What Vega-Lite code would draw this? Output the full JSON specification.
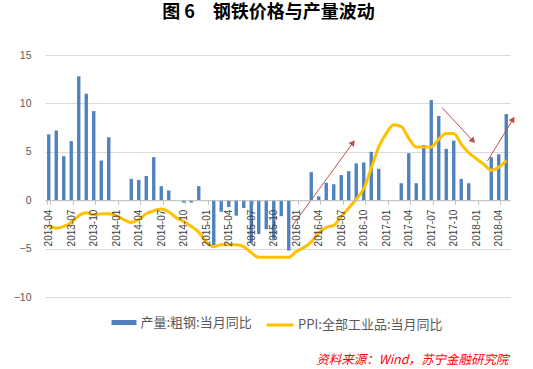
{
  "$schema": "https://vega.github.io/schema/vega-lite/v6.json",
  "width": 465,
  "height": 242,
  "autosize": {"type": "none"},
  "padding": {"left": 45, "top": 55, "right": 23, "bottom": 72},
  "background": "white",
  "title": {"text": "图 6　钢铁价格与产量波动", "frame": "group", "anchor": "middle", "dx": -9, "offset": 14, "baseline": "alphabetic", "font": "Noto Sans CJK SC", "fontSize": 18, "fontWeight": "bold", "color": "#000000"},
  "config": {"view": {"stroke": null}},
  "datasets": {
    "monthly": [
      {"m": "2013-04", "steel": 6.8, "ppi": -2.6},
      {"m": "2013-05", "steel": 7.2, "ppi": -2.9},
      {"m": "2013-06", "steel": 4.55, "ppi": -2.7},
      {"m": "2013-07", "steel": 6.1, "ppi": -2.3},
      {"m": "2013-08", "steel": 12.8, "ppi": -1.6},
      {"m": "2013-09", "steel": 11.0, "ppi": -1.3},
      {"m": "2013-10", "steel": 9.2, "ppi": -1.5},
      {"m": "2013-11", "steel": 4.1, "ppi": -1.4},
      {"m": "2013-12", "steel": 6.5, "ppi": -1.4},
      {"m": "2014-01", "steel": null, "ppi": -1.6},
      {"m": "2014-02", "steel": null, "ppi": -2.0},
      {"m": "2014-03", "steel": 2.2, "ppi": -2.3},
      {"m": "2014-04", "steel": 2.1, "ppi": -2.0},
      {"m": "2014-05", "steel": 2.5, "ppi": -1.4},
      {"m": "2014-06", "steel": 4.45, "ppi": -1.1},
      {"m": "2014-07", "steel": 1.45, "ppi": -0.9},
      {"m": "2014-08", "steel": 1.0, "ppi": -1.2},
      {"m": "2014-09", "steel": 0.0, "ppi": -1.8},
      {"m": "2014-10", "steel": -0.25, "ppi": -2.2},
      {"m": "2014-11", "steel": -0.25, "ppi": -2.7},
      {"m": "2014-12", "steel": 1.45, "ppi": -3.3},
      {"m": "2015-01", "steel": null, "ppi": -4.3},
      {"m": "2015-02", "steel": -4.65, "ppi": -4.8},
      {"m": "2015-03", "steel": -1.2, "ppi": -4.6},
      {"m": "2015-04", "steel": -0.7, "ppi": -4.6},
      {"m": "2015-05", "steel": -1.6, "ppi": -4.6},
      {"m": "2015-06", "steel": -0.8, "ppi": -4.8},
      {"m": "2015-07", "steel": -4.4, "ppi": -5.4},
      {"m": "2015-08", "steel": -3.5, "ppi": -5.9},
      {"m": "2015-09", "steel": -3.0, "ppi": -5.9},
      {"m": "2015-10", "steel": -4.0, "ppi": -5.9},
      {"m": "2015-11", "steel": -1.65, "ppi": -5.9},
      {"m": "2015-12", "steel": -5.2, "ppi": -5.9},
      {"m": "2016-01", "steel": null, "ppi": -5.3},
      {"m": "2016-02", "steel": null, "ppi": -4.9},
      {"m": "2016-03", "steel": 2.9, "ppi": -4.3},
      {"m": "2016-04", "steel": 0.4, "ppi": -3.4},
      {"m": "2016-05", "steel": 1.8, "ppi": -2.8},
      {"m": "2016-06", "steel": 1.65, "ppi": -2.6},
      {"m": "2016-07", "steel": 2.6, "ppi": -1.7},
      {"m": "2016-08", "steel": 3.0, "ppi": -0.8},
      {"m": "2016-09", "steel": 3.8, "ppi": 0.1},
      {"m": "2016-10", "steel": 3.9, "ppi": 1.2},
      {"m": "2016-11", "steel": 5.0, "ppi": 3.3},
      {"m": "2016-12", "steel": 3.25, "ppi": 5.5},
      {"m": "2017-01", "steel": null, "ppi": 6.9},
      {"m": "2017-02", "steel": null, "ppi": 7.8},
      {"m": "2017-03", "steel": 1.75, "ppi": 7.6},
      {"m": "2017-04", "steel": 4.85, "ppi": 6.4},
      {"m": "2017-05", "steel": 1.75, "ppi": 5.5},
      {"m": "2017-06", "steel": 5.7, "ppi": 5.5},
      {"m": "2017-07", "steel": 10.35, "ppi": 5.5},
      {"m": "2017-08", "steel": 8.7, "ppi": 6.3},
      {"m": "2017-09", "steel": 5.3, "ppi": 6.9},
      {"m": "2017-10", "steel": 6.15, "ppi": 6.9},
      {"m": "2017-11", "steel": 2.2, "ppi": 5.8},
      {"m": "2017-12", "steel": 1.75, "ppi": 4.9},
      {"m": "2018-01", "steel": null, "ppi": 4.3},
      {"m": "2018-02", "steel": null, "ppi": 3.7},
      {"m": "2018-03", "steel": 4.45, "ppi": 3.1},
      {"m": "2018-04", "steel": 4.75, "ppi": 3.4},
      {"m": "2018-05", "steel": 8.9, "ppi": 4.1}
    ],
    "arrows": [
      {"x1": 33.0, "y1": -2.63, "x2": 41.07, "y2": 5.94, "heading": 36},
      {"x1": 52.94, "y1": 9.56, "x2": 57.07, "y2": 6.12, "heading": 137},
      {"x1": 58.99, "y1": 4.05, "x2": 62.4, "y2": 8.36, "heading": 31.5}
    ]
  },
  "layer": [
    {
      "layer": [
        {
          "data": {"name": "monthly"},
          "mark": {"type": "bar", "color": "#4F81BD"},
          "encoding": {
            "x": {
              "field": "m", "type": "ordinal",
              "scale": {"paddingInner": 0.55, "paddingOuter": 0.275},
              "axis": {
                "values": ["2013-04","2013-07","2013-10","2014-01","2014-04","2014-07","2014-10","2015-01","2015-04","2015-07","2015-10","2016-01","2016-04","2016-07","2016-10","2017-01","2017-04","2017-07","2017-10","2018-01","2018-04"],
                "offset": -96.8,
                "labelAngle": -90,
                "labelFont": "Liberation Sans",
                "labelFontSize": 10,
                "labelColor": "#404040",
                "labelPadding": 5,
                "tickSize": 4,
                "tickColor": "#BFBFBF",
                "tickBand": "extent",
                "domainColor": "#BFBFBF",
                "grid": false,
                "zindex": 1,
                "title": "资料来源：Wind，苏宁金融研究院",
                "titleX": 463,
                "titleY": 163,
                "titleAlign": "right",
                "titleBaseline": "alphabetic",
                "titleAngle": 0,
                "titleColor": "#FF0000",
                "titleFont": "Noto Sans CJK SC",
                "titleFontSize": 12.5,
                "titleFontStyle": "italic",
                "titleFontWeight": "normal"
              }
            },
            "y": {
              "field": "steel", "type": "quantitative", "title": null,
              "scale": {"domain": [-10, 15]},
              "axis": {
                "values": [-10, -5, 0, 5, 10, 15],
                "domain": false,
                "ticks": false,
                "labelPadding": 14,
                "labelColor": "#595959",
                "labelFont": "Liberation Sans",
                "labelFontSize": 10.5,
                "gridColor": "#D9D9D9",
                "gridWidth": 1
              }
            },
            "color": {
              "datum": "产量:粗钢:当月同比",
              "scale": {"range": ["#4F81BD"]},
              "legend": {
                "orient": "none", "legendX": 66.5, "legendY": 255, "title": null,
                "symbolType": "M-1,-0.2H1V0.2H-1Z", "symbolSize": 625, "symbolStrokeWidth": 0,
                "labelFont": "Noto Sans CJK SC", "labelFontSize": 13, "labelColor": "#595959", "labelOffset": 4
              }
            }
          }
        },
        {
          "data": {"name": "monthly"},
          "mark": {"type": "line", "interpolate": "monotone", "strokeWidth": 3},
          "encoding": {
            "x": {"field": "m", "type": "ordinal"},
            "y": {"field": "ppi", "type": "quantitative", "title": null, "scale": {"domain": [-10, 15]}},
            "stroke": {
              "datum": "PPI:全部工业品:当月同比",
              "scale": {"range": ["#FFC000"]},
              "legend": {
                "orient": "none", "legendX": 220, "legendY": 255, "title": null,
                "symbolType": "stroke", "symbolSize": 729, "symbolStrokeWidth": 3,
                "labelFont": "Noto Sans CJK SC", "labelFontSize": 13, "labelColor": "#595959", "labelOffset": 3
              }
            }
          }
        }
      ]
    },
    {
      "layer": [
        {
          "data": {"name": "arrows"},
          "mark": {"type": "rule", "color": "#C0504D", "strokeWidth": 1},
          "encoding": {
            "x": {"field": "x1", "type": "quantitative", "scale": {"domain": [0, 62]}, "axis": null},
            "x2": {"field": "x2"},
            "y": {"field": "y1", "type": "quantitative", "title": null, "scale": {"domain": [-10, 15]}},
            "y2": {"field": "y2"}
          }
        },
        {
          "data": {"name": "arrows"},
          "mark": {"type": "point", "shape": "triangle-up", "filled": true, "color": "#C0504D", "size": 45, "opacity": 1},
          "encoding": {
            "x": {"field": "x2", "type": "quantitative", "scale": {"domain": [0, 62]}, "axis": null},
            "y": {"field": "y2", "type": "quantitative", "title": null, "scale": {"domain": [-10, 15]}},
            "angle": {"field": "heading", "type": "quantitative", "scale": null}
          }
        }
      ]
    }
  ],
  "resolve": {"scale": {"x": "independent"}}
}
